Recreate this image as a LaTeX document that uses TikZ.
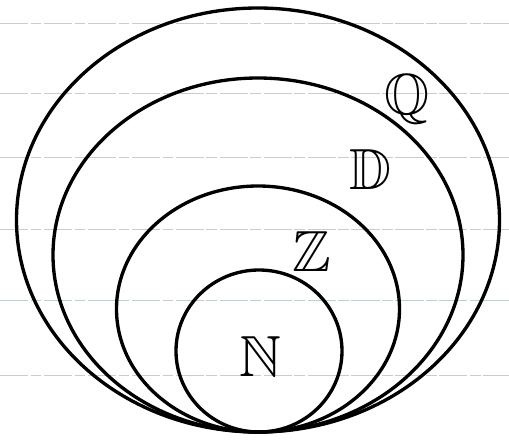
\documentclass[tikz,border=0pt]{standalone}
\usepackage{amsmath,amssymb}
\usepackage{xcolor}
\usepackage{tikz}
\definecolor{ruleline}{RGB}{196,206,206}

\begin{document}
\begin{tikzpicture}[
  every node/.style={font=\fontsize{33}{38}\selectfont},
  set/.style={draw,line width=1.9pt},
  paperline/.style={ruleline,line width=0.5pt,dash pattern=on 16pt off 1.5pt on 6pt off 1.5pt},
  setlabel/.style={inner sep=0pt},
]
\useasboundingbox (0,0) rectangle (10.18,8.82);

% Ruled paper lines
\foreach \yy in {8.36,6.96,5.68,4.24,2.82,1.32} {
  \draw[paperline] (0,\yy) -- (10.18,\yy);
}

% Nested sets, all touching at the bottom
\coordinate (touch) at (5.16,0.18);
\draw[set] (5.16,4.42) ellipse [x radius=4.83, y radius=4.24];
\draw[set] (5.16,3.72) ellipse [x radius=4.10, y radius=3.54];
\draw[set] (5.16,2.64) ellipse [x radius=2.83, y radius=2.46];
\draw[set] (5.18,1.80) ellipse [x radius=1.66, y radius=1.62];

% Labels
\node[setlabel] (Q) at (8.14,6.84) {$\mathbb{Q}$};
\node[setlabel] (D) at (7.40,5.42) {$\mathbb{D}$};
\node[setlabel] (Z) at (6.24,3.78) {$\mathbb{Z}$};
\node[setlabel] (N) at (5.20,1.68) {$\mathbb{N}$};

\end{tikzpicture}
\end{document}
